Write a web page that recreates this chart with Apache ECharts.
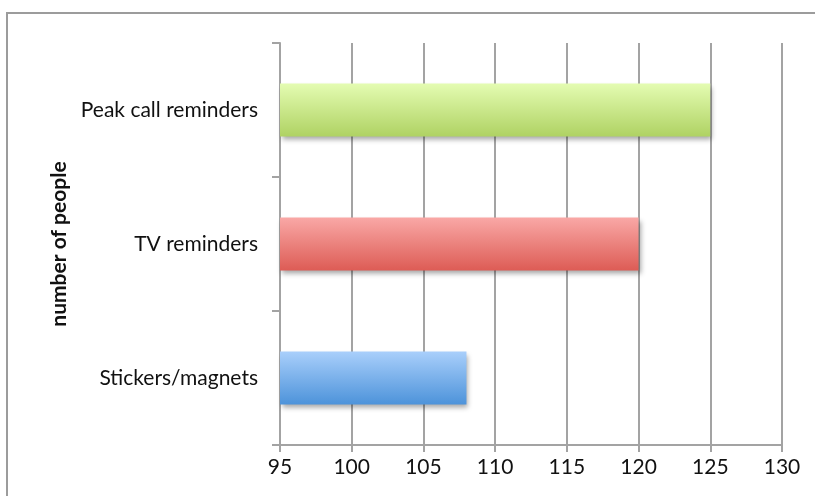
<!DOCTYPE html>
<html>
<head>
<meta charset="utf-8">
<script src="https://cdn.jsdelivr.net/npm/echarts@6/dist/echarts.min.js"></script>
<style>
  html, body { margin: 0; padding: 0; background: #fff; }
  #chart { width: 815px; height: 496px; }
</style>
</head>
<body>
<div id="chart"></div>
<script>
// Reminder channels, listed bottom to top
const categories = ['Stickers/magnets', 'TV reminders', 'Peak call reminders'];
const values = [108, 120, 125];
const xTicks = { min: 95, max: 130, interval: 5 };

// Vertical gradient per bar (top colour, bottom colour)
const palette = [
  ['#a9cffb', '#4d93da'],
  ['#f9a8a6', '#dd5c55'],
  ['#e4fcb2', '#afd263']
];

const chart = echarts.init(document.getElementById('chart'));
const gray = '#a3a3a3';
const font = 'Lato, "Open Sans", sans-serif';

chart.setOption({
  animation: false,
  graphic: [{
    type: 'rect',
    shape: { x: 7, y: 13, width: 830, height: 500 },
    style: { fill: 'none', stroke: '#9c9c9c', lineWidth: 2 },
    silent: true
  }],
  grid: { left: 280, right: 33, top: 43, bottom: 51 },
  xAxis: {
    type: 'value',
    min: xTicks.min,
    max: xTicks.max,
    interval: xTicks.interval,
    axisLine: { show: true, lineStyle: { color: gray, width: 2 } },
    axisTick: { show: true, length: 7, lineStyle: { color: gray, width: 2 } },
    splitLine: { show: true, lineStyle: { color: gray, width: 2 } },
    axisLabel: { color: '#111', fontSize: 21, fontFamily: font, margin: 12 }
  },
  yAxis: {
    type: 'category',
    data: categories,
    name: 'number of people',
    nameLocation: 'middle',
    nameGap: 205,
    nameTextStyle: { color: '#111', fontSize: 21, fontWeight: 'bold', fontFamily: font },
    axisLine: { show: true, lineStyle: { color: gray, width: 2 } },
    axisTick: { show: true, length: 8, lineStyle: { color: gray, width: 2 } },
    axisLabel: { color: '#111', fontSize: 21, fontFamily: font, margin: 22, padding: [4, 0, 0, 0] }
  },
  series: [{
    type: 'bar',
    barWidth: 53,
    data: values.map((v, i) => ({
      value: v,
      itemStyle: {
        color: new echarts.graphic.LinearGradient(0, 0, 0, 1, [
          { offset: 0, color: palette[i][0] },
          { offset: 1, color: palette[i][1] }
        ]),
        shadowColor: 'rgba(0,0,0,0.35)',
        shadowBlur: 5,
        shadowOffsetX: 2,
        shadowOffsetY: 3
      }
    }))
  }]
});
</script>
</body>
</html>
